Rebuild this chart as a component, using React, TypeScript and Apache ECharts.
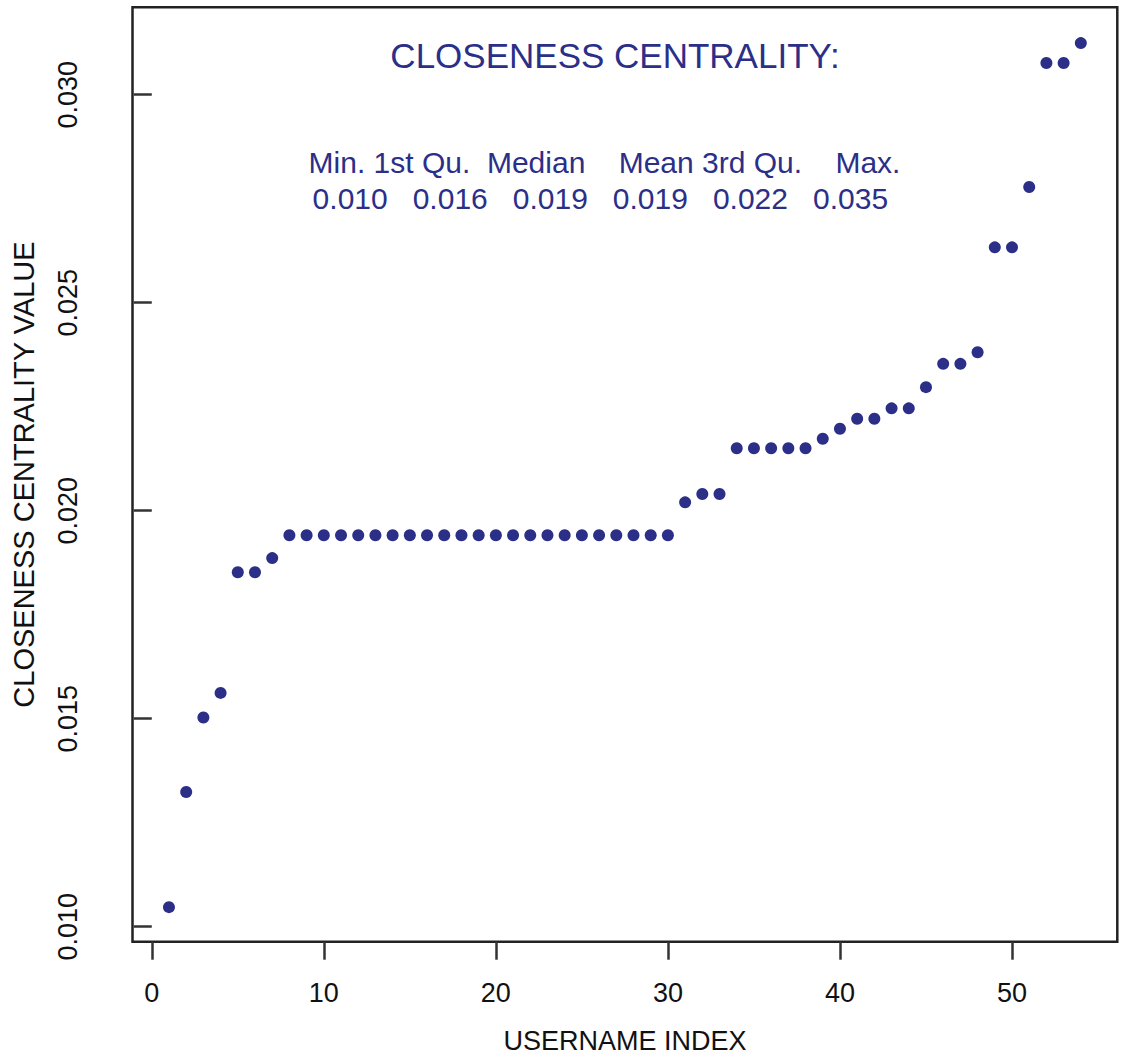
import React, { useEffect, useRef } from "react";
import * as echarts from "echarts";

const userIndex = [
  1, 2, 3, 4, 5, 6, 7, 8, 9, 10, 11, 12, 13, 14, 15, 16, 17, 18, 19, 20, 21, 22, 23, 24, 25, 26, 27,
  28, 29, 30, 31, 32, 33, 34, 35, 36, 37, 38, 39, 40, 41, 42, 43, 44, 45, 46, 47, 48, 49, 50, 51,
  52, 53, 54,
];

const closeness = [
  0.01047, 0.01324, 0.01503, 0.01562, 0.01852, 0.01852, 0.01886,
  0.01941, 0.01941, 0.01941, 0.01941, 0.01941, 0.01941, 0.01941, 0.01941, 0.01941, 0.01941,
  0.01941, 0.01941, 0.01941, 0.01941, 0.01941, 0.01941, 0.01941, 0.01941, 0.01941, 0.01941,
  0.01941, 0.01941, 0.01941,
  0.0202, 0.0204, 0.0204,
  0.0215, 0.0215, 0.0215, 0.0215, 0.0215,
  0.02173, 0.02197, 0.02221, 0.02221, 0.02246, 0.02246, 0.02297, 0.02353, 0.02353, 0.02381,
  0.02633, 0.02633, 0.02778, 0.03076, 0.03076, 0.03124,
];

const xTicks = [0, 10, 20, 30, 40, 50];
const yTicks = [0.01, 0.015, 0.02, 0.025, 0.03];

const chartTitle = "CLOSENESS CENTRALITY:";
const statNames = ["Min.", "1st Qu.", "Median", "Mean", "3rd Qu.", "Max."];
const statValues = ["0.010", "0.016", "0.019", "0.019", "0.022", "0.035"];

const xAxisTitle = "USERNAME INDEX";
const yAxisTitle = "CLOSENESS CENTRALITY VALUE";

const NAVY = "#2B2F88";
const FONT = "'Liberation Sans', Arial, Helvetica, sans-serif";
const NBSP = "\u00A0";

// R-style printed row: each entry right-justified to width 7, separated by a space
const printRow = (items: string[]) =>
  items.map((s) => s.padStart(7, " ")).join(" ").replace(/ /g, NBSP);

export default function App() {
  const ref = useRef<HTMLDivElement>(null);

  useEffect(() => {
    if (!ref.current) return;
    const chart = echarts.init(ref.current, undefined, { renderer: "svg" });
    const points = userIndex.map((x, i) => [x, closeness[i]]);

    chart.setOption({
      animation: false,
      backgroundColor: "#ffffff",
      textStyle: { fontFamily: FONT },
      grid: {
        left: 132.5,
        right: 7.7,
        top: 7.3,
        bottom: 122.3,
        show: true,
        borderColor: "#222222",
        borderWidth: 2.5,
        backgroundColor: "transparent",
      },
      xAxis: {
        type: "value",
        min: -1.12,
        max: 56.12,
        name: xAxisTitle,
        nameLocation: "middle",
        nameGap: 86,
        nameTextStyle: { fontSize: 27, color: "#111111", fontFamily: FONT },
        axisLine: { show: false },
        splitLine: { show: false },
        axisTick: {
          show: true,
          customValues: xTicks,
          length: 18,
          lineStyle: { color: "#333333", width: 2.5 },
        },
        axisLabel: {
          customValues: xTicks,
          margin: 38,
          fontSize: 27,
          color: "#111111",
          fontFamily: FONT,
        },
      },
      yAxis: {
        type: "value",
        min: 0.00964,
        max: 0.0321,
        name: yAxisTitle,
        nameLocation: "middle",
        nameRotate: 90,
        nameGap: 94,
        nameTextStyle: { fontSize: 29, color: "#111111", fontFamily: FONT },
        axisLine: { show: false },
        splitLine: { show: false },
        axisTick: {
          show: true,
          customValues: yTicks,
          length: 18,
          lineStyle: { color: "#333333", width: 2.5 },
        },
        axisLabel: {
          customValues: yTicks,
          rotate: 90,
          margin: 51,
          fontSize: 27,
          color: "#111111",
          fontFamily: FONT,
          formatter: (v: number) => v.toFixed(3),
        },
      },
      graphic: [
        {
          type: "text",
          x: 615,
          y: 55,
          style: {
            text: chartTitle,
            fontSize: 35,
            fontFamily: FONT,
            fill: NAVY,
            align: "center",
            verticalAlign: "middle",
          },
        },
        {
          type: "text",
          x: 592,
          y: 162,
          style: {
            text: printRow(statNames),
            fontSize: 30,
            fontFamily: FONT,
            fill: NAVY,
            align: "center",
            verticalAlign: "middle",
          },
        },
        {
          type: "text",
          x: 592,
          y: 198,
          style: {
            text: printRow(statValues),
            fontSize: 30,
            fontFamily: FONT,
            fill: NAVY,
            align: "center",
            verticalAlign: "middle",
          },
        },
      ],
      series: [
        {
          type: "scatter",
          data: points,
          symbol: "circle",
          symbolSize: 12,
          itemStyle: { color: NAVY, opacity: 1 },
          silent: true,
        },
      ],
    });

    return () => chart.dispose();
  }, []);

  return (
    <div
      ref={ref}
      style={{ position: "absolute", left: 0, top: 0, width: 1125, height: 1064 }}
    />
  );
}
